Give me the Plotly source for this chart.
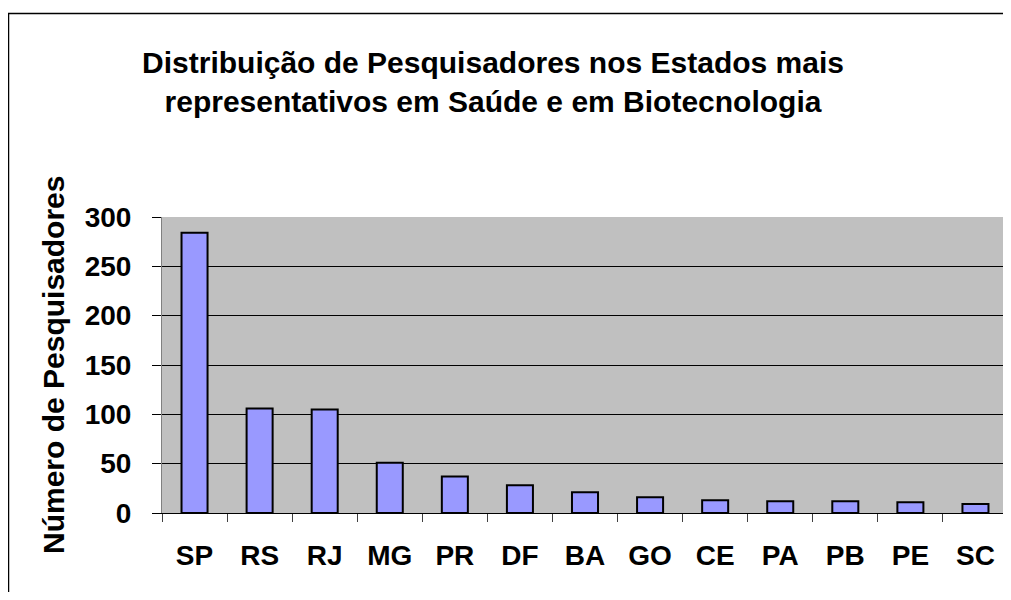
import plotly.graph_objects as go

estados = ["SP", "RS", "RJ", "MG", "PR", "DF", "BA", "GO", "CE", "PA", "PB", "PE", "SC"]
pesquisadores = [284, 106, 105, 51, 37, 28, 21, 16, 13, 12, 12, 11, 9]
y_ticks = [0, 50, 100, 150, 200, 250, 300]

title_text = "Distribuição de Pesquisadores nos Estados mais<br>representativos em Saúde e em Biotecnologia"
y_title = "Número de Pesquisadores"

# the page body adds an 8px offset; figure sized to fit the 1011x600 window
OFF = 8
W, H = 1011 - OFF, 600 - 2 * OFF
L, R = 162 - OFF, 3
T = 217 - OFF
B = H - (513 - OFF)
pw, ph = W - L - R, H - T - B

def px_x(x):  # page pixel -> paper
    return (x - OFF - L) / pw

def px_y(y):  # page pixel -> paper
    return (H - B - (y - OFF)) / ph

FONT = "Liberation Sans, Arial, sans-serif"

fig = go.Figure(
    go.Bar(
        x=estados,
        y=pesquisadores,
        marker=dict(color="#9999FF", line=dict(color="black", width=2)),
        width=0.4,
    )
)

fig.update_layout(
    width=W,
    height=H,
    margin=dict(l=L, r=R, t=T, b=B),
    paper_bgcolor="white",
    plot_bgcolor="#C0C0C0",
    showlegend=False,
    font=dict(family=FONT, color="black"),
    title=dict(
        text="<b>" + title_text.replace("<br>", "</b><br><b>") + "</b>",
        x=(493 - OFF) / W,
        xanchor="center",
        y=1 - (73 - OFF) / H,
        yanchor="middle",
        font=dict(size=30, family=FONT, color="black"),
    ),
)

fig.update_xaxes(
    type="category",
    tickson="boundaries",
    ticks="outside",
    ticklen=8,
    tickcolor="#404040",
    showline=True,
    linecolor="black",
    linewidth=1,
    showgrid=False,
    tickfont=dict(size=28, family=FONT, color="black", weight="bold"),
    ticklabelstandoff=17,
)

fig.update_yaxes(
    range=[0, 300],
    tickvals=y_ticks,
    ticks="outside",
    ticklen=9,
    tickcolor="black",
    showline=True,
    linecolor="#808080",
    linewidth=1,
    mirror=True,
    showgrid=True,
    gridcolor="black",
    gridwidth=1,
    zeroline=False,
    tickfont=dict(size=28, family=FONT, color="black", weight="bold"),
    ticklabelstandoff=15,
)

# y-axis title as rotated annotation
fig.add_annotation(
    text="<b>" + y_title + "</b>",
    xref="paper", yref="paper",
    x=px_x(53), y=px_y(365),
    xanchor="center", yanchor="middle",
    textangle=-90,
    showarrow=False,
    font=dict(size=30, family=FONT, color="black"),
)

# outer chart border (top and left edges visible)
fig.add_shape(
    type="rect",
    xref="paper", yref="paper",
    x0=px_x(8.5), y0=px_y(13.5), x1=px_x(1040), y1=px_y(640),
    line=dict(color="black", width=1.5),
    fillcolor="rgba(0,0,0,0)",
    layer="above",
)

fig.write_html("out.html")
